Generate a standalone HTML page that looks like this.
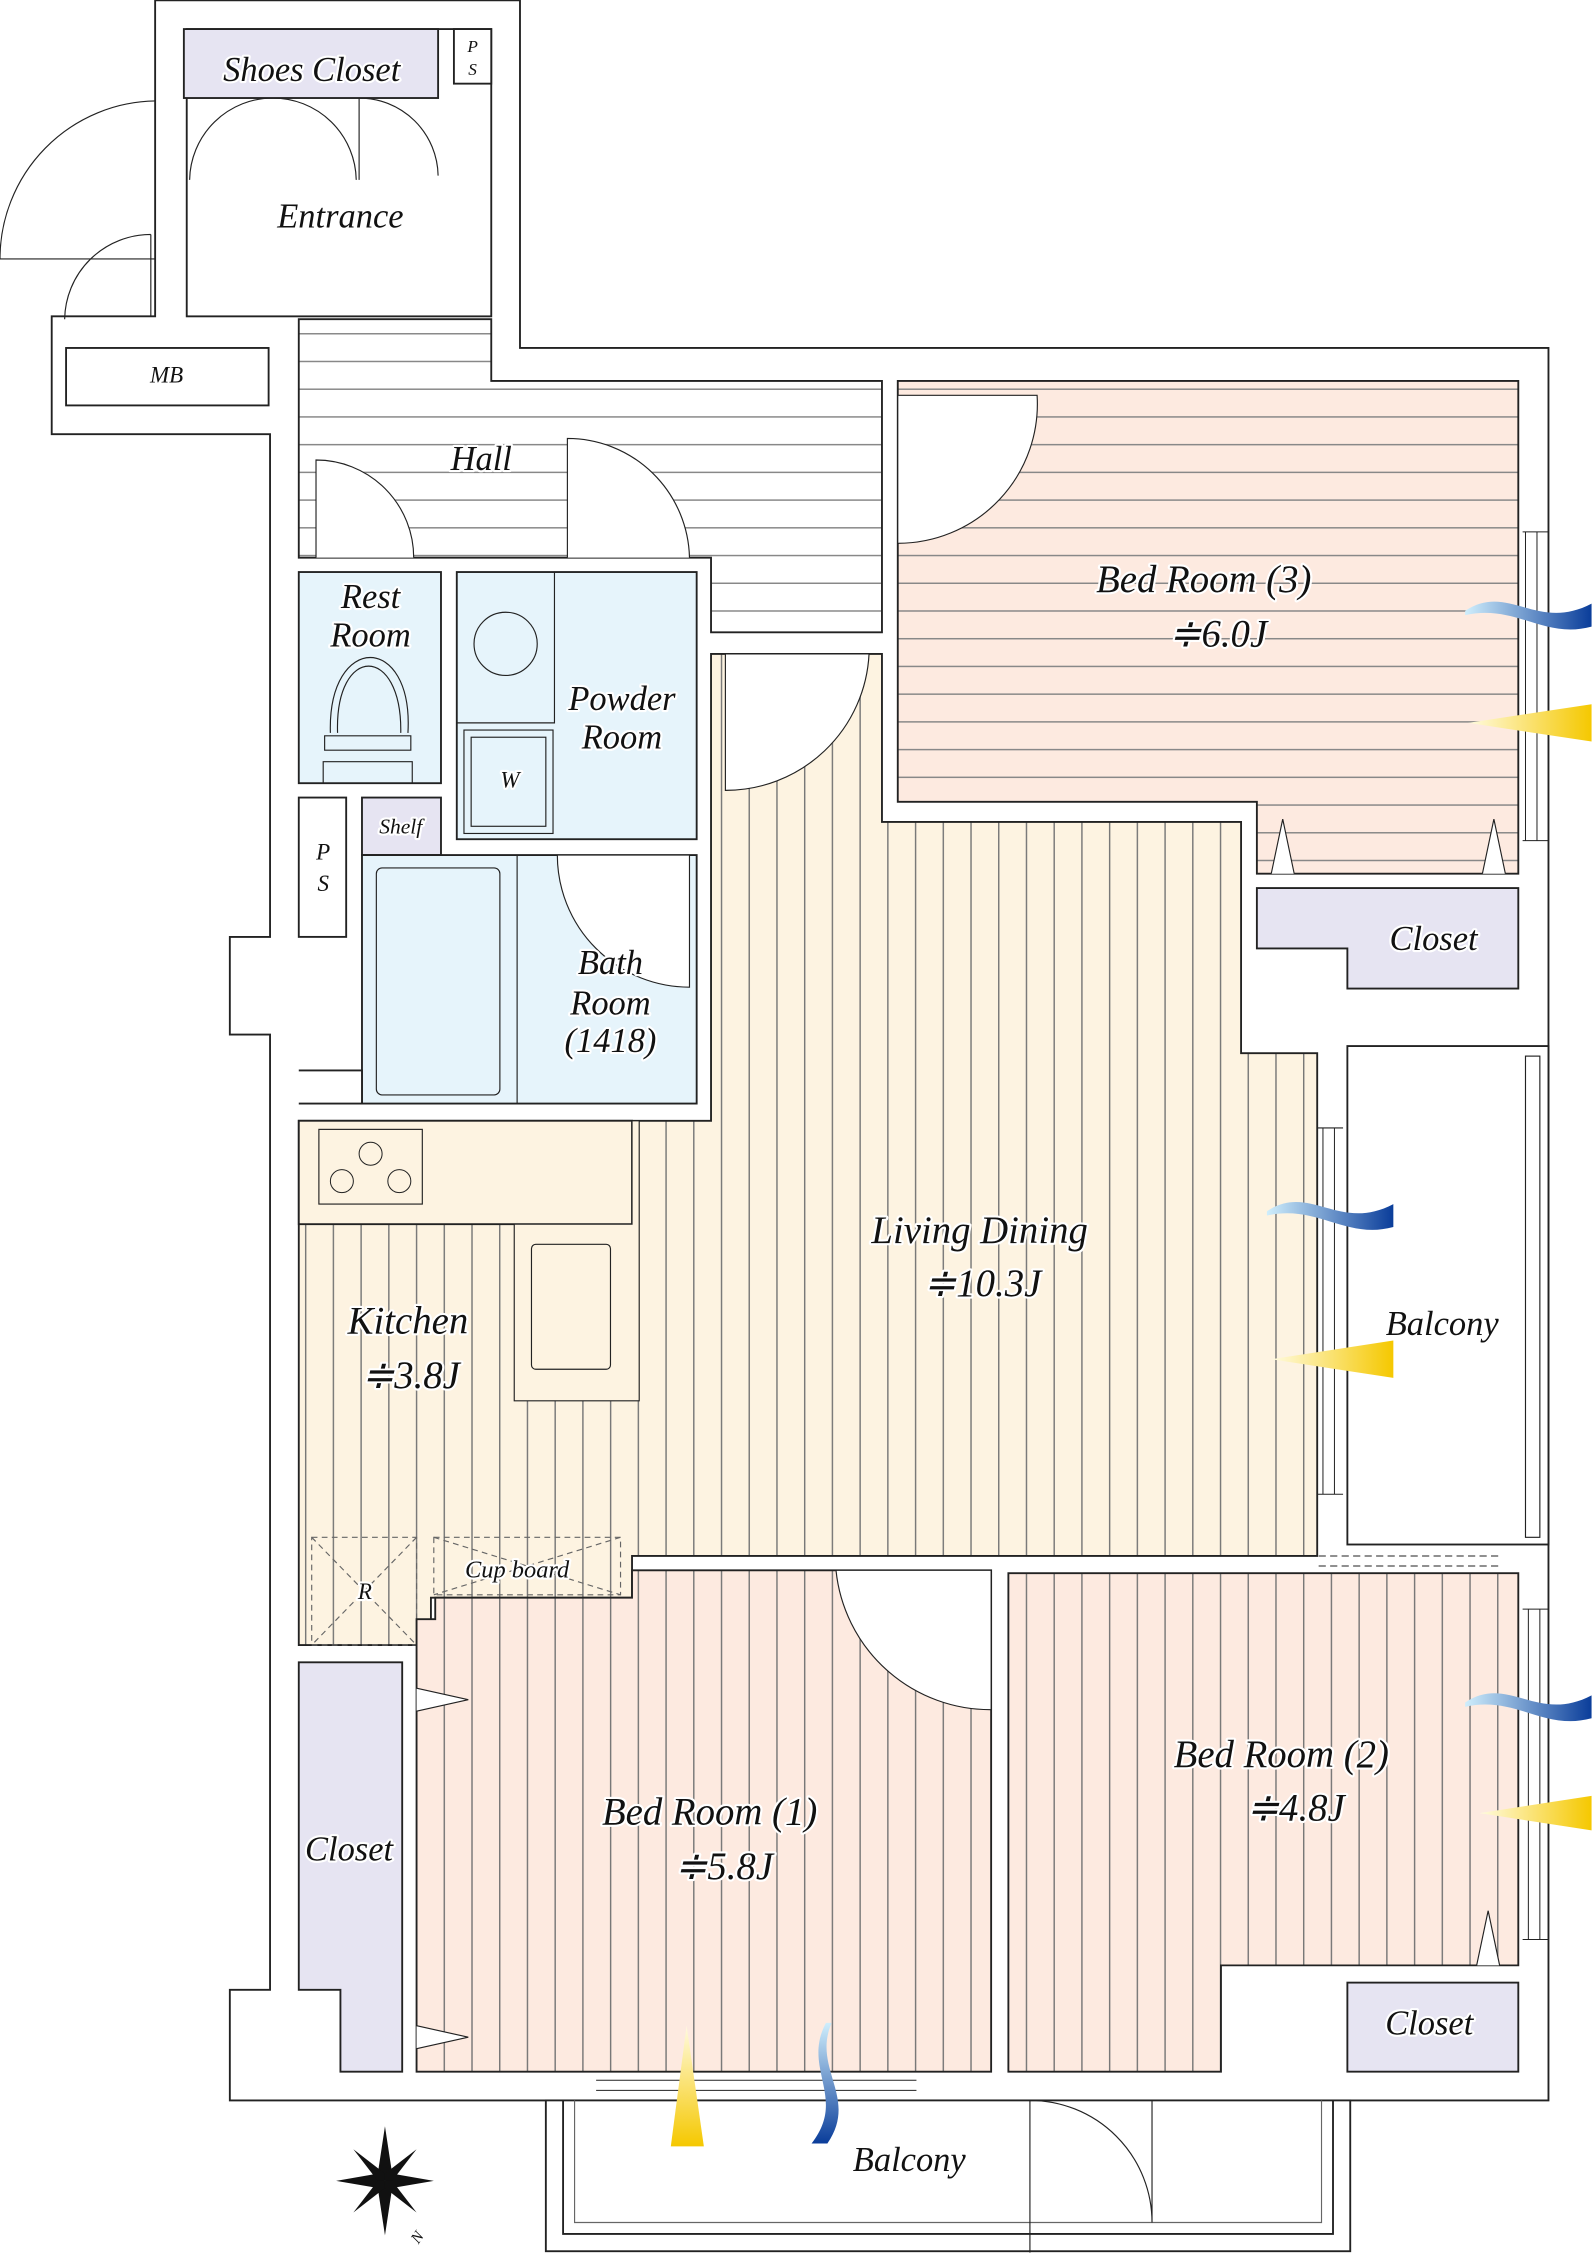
<!DOCTYPE html>
<html><head><meta charset="utf-8"><style>
html,body{margin:0;padding:0;background:#fff}
svg{display:block}
text{font-family:"Liberation Serif",serif;font-style:italic;fill:#111;paint-order:stroke;stroke:#fff;stroke-width:3px;stroke-linejoin:round}
</style></head><body>
<svg width="1593" height="2253" viewBox="0 0 1109 1568" xmlns="http://www.w3.org/2000/svg">
<defs>
<pattern id="hs" width="20" height="19.3" patternUnits="userSpaceOnUse"><rect width="20" height="19.3" fill="#fff"/><line x1="0" y1="0.5" x2="20" y2="0.5" stroke="#888" stroke-width="1"/></pattern>
<pattern id="hp" width="20" height="19.3" patternUnits="userSpaceOnUse"><rect width="20" height="19.3" fill="#fdeae0"/><line x1="0" y1="0.5" x2="20" y2="0.5" stroke="#888" stroke-width="1"/></pattern>
<pattern id="vc" width="19.3" height="20" patternUnits="userSpaceOnUse"><rect width="19.3" height="20" fill="#fdf3e1"/><line x1="0.5" y1="0" x2="0.5" y2="20" stroke="#777" stroke-width="1"/></pattern>
<pattern id="vp" width="19.3" height="20" patternUnits="userSpaceOnUse"><rect width="19.3" height="20" fill="#fdeae0"/><line x1="0.5" y1="0" x2="0.5" y2="20" stroke="#777" stroke-width="1"/></pattern>
<linearGradient id="bl" x1="0" x2="1" y1="0" y2="0"><stop offset="0" stop-color="#cfeefc"/><stop offset="1" stop-color="#0a3d9a"/></linearGradient>
<linearGradient id="yl" x1="0" x2="1" y1="0" y2="0"><stop offset="0" stop-color="#fffbe0"/><stop offset="1" stop-color="#f5c800"/></linearGradient>
<linearGradient id="blv" x1="0" x2="0" y1="0" y2="1"><stop offset="0" stop-color="#cfeefc"/><stop offset="1" stop-color="#0a3d9a"/></linearGradient>
<linearGradient id="ylv" x1="0" x2="0" y1="0" y2="1"><stop offset="0" stop-color="#fffbe0"/><stop offset="1" stop-color="#f5c800"/></linearGradient>
</defs>
<g stroke="#222" stroke-width="1.3" fill="none">
<polygon points="108,0 362,0 362,242 1078,242 1078,1462 160,1462 160,1385 188,1385 188,720 160,720 160,652 188,652 188,302 36,302 36,220 108,220" fill="#fff"/>
<rect x="380" y="1462" width="560" height="105" fill="#fff"/>
<polyline points="392,1462 392,1555 928,1555 928,1462"/>
<polyline points="400,1462 400,1547 920,1547 920,1462" stroke="#666" stroke-width="0.8"/>
<rect x="130" y="20" width="212" height="200" fill="#fff"/>
<rect x="128" y="20" width="177" height="48" fill="#e6e4f2"/>
<rect x="316" y="20" width="26" height="38" fill="#fff"/>
<path d="M130,68 L190,68 M190,68 A58,58 0 0 0 132,125 M190,68 A58,58 0 0 1 248,125 M250,68 A55,55 0 0 1 305,122 M250,68 L250,125" stroke-width="0.8"/>
<path d="M108,70 A110,110 0 0 0 0,180 L108,180" stroke-width="0.8"/>
<path d="M105,163 A60,60 0 0 0 45,222 M105,163 L105,220" stroke-width="0.8"/>
<rect x="46" y="242" width="141" height="40" fill="#fff"/>
<polygon points="208,222 342,222 342,265 614,265 614,440 495,440 495,388 208,388" fill="url(#hs)"/>
<polygon points="625,265 1057,265 1057,608 875,608 875,558 625,558" fill="url(#hp)"/>
<polygon points="875,618 1057,618 1057,688 938,688 938,660 875,660" fill="#e6e4f2"/>
<path d="M625,275 L722,275 A97,97 0 0 1 625,378 Z" fill="#fff" stroke-width="0.8"/>
<path d="M885,608 L893,570 L901,608 M1032,608 L1040,570 L1048,608" fill="#fff" stroke-width="0.8"/>
<polygon points="495,455 614,455 614,572 864,572 864,733 917,733 917,1083 440,1083 440,1112 300,1112 300,1145 208,1145 208,780 495,780" fill="url(#vc)"/>
<rect x="208" y="780" width="232" height="72" fill="#fdf3e1"/>
<rect x="222" y="786" width="72" height="52" fill="#fdf3e1" stroke-width="0.8"/>
<polygon points="358,852 440,852 440,780 445,780 445,975 358,975" fill="#fdf3e1" stroke-width="0.8"/>
<rect x="370" y="866" width="55" height="87" rx="3" fill="#fdf3e1" stroke-width="0.8"/>
<g stroke-width="0.7"><circle cx="258" cy="803" r="8"/><circle cx="238" cy="822" r="8"/><circle cx="278" cy="822" r="8"/></g>
<g stroke="#666" stroke-width="0.8" stroke-dasharray="4,3"><rect x="217" y="1070" width="73" height="75"/><path d="M217,1070 L290,1145 M290,1070 L217,1145"/><rect x="302" y="1070" width="130" height="40"/><path d="M302,1070 L432,1110 M432,1070 L302,1110"/></g>
<path d="M505,455 L605,455 A100,100 0 0 1 505,550 Z" fill="#fff" stroke-width="0.8"/>
<rect x="208" y="398" width="99" height="147" fill="#e6f4fb"/>
<path d="M220,388 L220,320 A68,68 0 0 1 288,388" fill="#fff" stroke-width="0.8"/>
<path d="M395,388 L395,305 A85,85 0 0 1 480,388" fill="#fff" stroke-width="0.8"/>
<path d="M230,510 C228,440 288,440 284,510 M235,510 C233,448 280,448 279,510 M226,512 L286,512 L286,522 L226,522 Z M225,530 L287,530 L287,545 L225,545 Z" stroke-width="0.8"/>
<rect x="208" y="555" width="33" height="97" fill="#fff"/>
<rect x="318" y="398" width="167" height="186" fill="#e6f4fb"/>
<path d="M386,398 L386,503 L318,503" stroke-width="0.8"/>
<circle cx="352" cy="448" r="22" stroke-width="0.8"/>
<rect x="323" y="508" width="62" height="72" stroke-width="0.8"/><rect x="328" y="513" width="52" height="62" stroke-width="0.8"/>
<rect x="252" y="555" width="55" height="40" fill="#e6e4f2"/>
<polygon points="252,595 485,595 485,768 252,768" fill="#e6f4fb"/>
<polyline points="208,768 252,768 252,745 208,745" fill="#fff"/>
<rect x="262" y="604" width="86" height="158" rx="4" stroke-width="0.8"/>
<line x1="360" y1="595" x2="360" y2="768" stroke-width="0.8"/>
<path d="M480,595 L388,595 A92,92 0 0 0 480,687 Z" fill="#fff" stroke-width="0.8"/>
<polygon points="290,1127 303,1127 303,1112 440,1112 440,1093 690,1093 690,1442 290,1442" fill="url(#vp)"/>
<path d="M690,1093 L582,1093 A108,108 0 0 0 690,1190 Z" fill="#fff" stroke-width="0.8"/>
<polygon points="208,1157 280,1157 280,1442 237,1442 237,1385 208,1385" fill="#e6e4f2"/>
<path d="M290,1175 L326,1183 L290,1191 M290,1410 L326,1418 L290,1426" fill="#fff" stroke-width="0.8"/>
<polygon points="702,1095 1057,1095 1057,1368 850,1368 850,1442 702,1442" fill="url(#vp)"/>
<rect x="938" y="1380" width="119" height="62" fill="#e6e4f2"/>
<path d="M1028,1368 L1036,1330 L1044,1368" fill="#fff" stroke-width="0.8"/>
<path d="M717,1462 L717,1568 M717,1462 A85,85 0 0 1 802,1547 L802,1462" stroke-width="0.8"/>
<rect x="938" y="728" width="140" height="347" fill="#fff"/>
<rect x="1062" y="735" width="10" height="335" stroke-width="0.8"/>
<path d="M917,785 L935,785 M917,1040 L935,1040 M921,785 L921,1040 M929,785 L929,1040" stroke-width="0.7"/>
<path d="M918,1090 L1045,1090 M918,1083 L1045,1083" stroke-width="0.7" stroke-dasharray="5,3"/>
<path d="M1060,370 L1078,370 M1060,585 L1078,585 M1062,370 L1062,585 M1070,370 L1070,585 M1060,1120 L1078,1120 M1060,1350 L1078,1350 M1064,1120 L1064,1350 M1072,1120 L1072,1350" stroke-width="0.7"/>
<path d="M415,1448 L638,1448 M415,1455 L638,1455" stroke-width="0.7"/>
</g>
<path d="M1020,425 C1050,405 1070,440 1108,420 L1108,436 C1075,445 1055,420 1020,428 Z" fill="url(#bl)"/>
<polygon points="1022,503 1108,490 1108,516" fill="url(#yl)"/>
<path d="M882,843 C912,823 932,858 970,838 L970,854 C937,863 917,838 882,846 Z" fill="url(#bl)"/>
<polygon points="885,946 970,933 970,959" fill="url(#yl)"/>
<path d="M1020,1185 C1050,1165 1070,1200 1108,1180 L1108,1196 C1075,1205 1055,1180 1020,1188 Z" fill="url(#bl)"/>
<polygon points="1030,1262 1108,1250 1108,1274" fill="url(#yl)"/>
<polygon points="478,1410 467,1494 490,1494" fill="url(#ylv)"/>
<path d="M575,1408 C558,1440 590,1460 565,1492 L576,1492 C598,1460 565,1440 579,1408 Z" fill="url(#blv)"/>
<g transform="translate(268,1518)">
<polygon points="0,-38 5,-5 0,0 -5,-5" fill="#111"/><polygon points="0,38 5,5 0,0 -5,5" fill="#111"/>
<polygon points="-34,0 -5,-5 0,0 -5,5" fill="#111"/><polygon points="34,0 5,-5 0,0 5,5" fill="#111"/>
<polygon points="-22,-22 0,-5 0,0 -5,0" fill="#111"/><polygon points="22,22 0,5 0,0 5,0" fill="#111"/>
<polygon points="22,-22 5,0 0,0 0,-5" fill="#111"/><polygon points="-22,22 -5,0 0,0 0,5" fill="#111"/>
</g>
<text x="288" y="1564" font-size="11" transform="rotate(-55 288 1560)">N</text>
<g font-size="24">
<text x="217" y="56" text-anchor="middle">Shoes Closet</text>
<text x="237" y="158" text-anchor="middle">Entrance</text>
<text x="335" y="327" text-anchor="middle">Hall</text>
<text x="258" y="423" text-anchor="middle">Rest</text>
<text x="258" y="450" text-anchor="middle">Room</text>
<text x="433" y="494" text-anchor="middle">Powder</text>
<text x="433" y="521" text-anchor="middle">Room</text>
<text x="425" y="678" text-anchor="middle">Bath</text>
<text x="425" y="706" text-anchor="middle">Room</text>
<text x="425" y="732" text-anchor="middle">(1418)</text>
<text x="838" y="412" text-anchor="middle" font-size="27">Bed Room (3)</text>
<text x="848" y="450" text-anchor="middle" font-size="27">≑6.0J</text>
<text x="998" y="661" text-anchor="middle">Closet</text>
<text x="682" y="865" text-anchor="middle" font-size="27">Living Dining</text>
<text x="684" y="902" text-anchor="middle" font-size="27">≑10.3J</text>
<text x="1004" y="929" text-anchor="middle">Balcony</text>
<text x="284" y="928" text-anchor="middle" font-size="27">Kitchen</text>
<text x="286" y="966" text-anchor="middle" font-size="27">≑3.8J</text>
<text x="892" y="1230" text-anchor="middle" font-size="27">Bed Room (2)</text>
<text x="902" y="1267" text-anchor="middle" font-size="27">≑4.8J</text>
<text x="494" y="1270" text-anchor="middle" font-size="27">Bed Room (1)</text>
<text x="504" y="1308" text-anchor="middle" font-size="27">≑5.8J</text>
<text x="243" y="1295" text-anchor="middle">Closet</text>
<text x="995" y="1416" text-anchor="middle">Closet</text>
<text x="633" y="1511" text-anchor="middle">Balcony</text>
</g>
<g font-size="17">
<text x="116" y="266" text-anchor="middle" font-size="16">MB</text>
<text x="360" y="1098" text-anchor="middle">Cup  board</text>
<text x="254" y="1113" text-anchor="middle" font-size="16">R</text>
<text x="355" y="548" text-anchor="middle" font-size="16">W</text>
<text x="279" y="580" text-anchor="middle" font-size="15">Shelf</text>
<text x="225" y="598" text-anchor="middle" font-size="16">P</text>
<text x="225" y="620" text-anchor="middle" font-size="16">S</text>
<text x="329" y="36" text-anchor="middle" font-size="12">P</text>
<text x="329" y="52" text-anchor="middle" font-size="12">S</text>
</g>
</svg>
</body></html>
